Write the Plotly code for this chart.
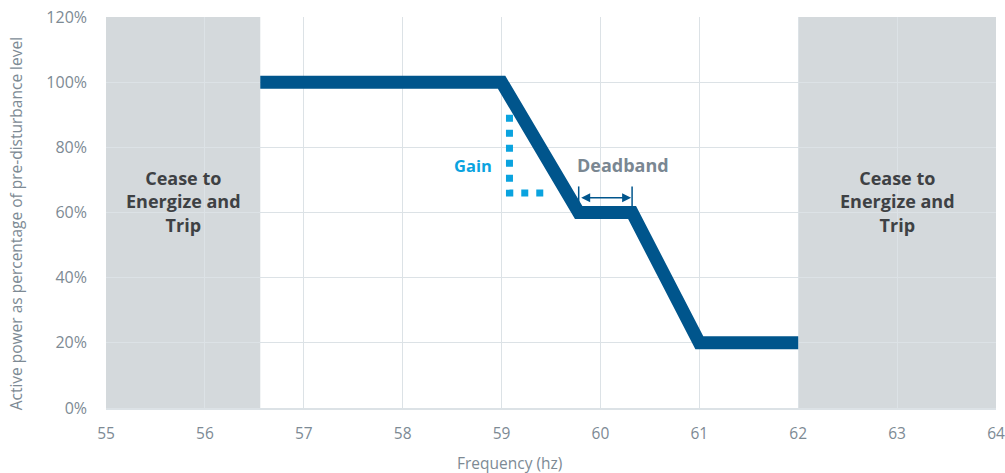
import plotly.graph_objects as go

# Frequency-watt response curve
freq = [56.56, 59.0, 59.78, 60.32, 61.0, 62.0]
power = [100, 100, 60, 60, 20, 20]

# Gain indicator (dotted right angle under the droop slope)
gain_x = [59.08, 59.08, 59.47]
gain_y = [90, 66, 66]

# Deadband span
deadband_lo, deadband_hi = 59.78, 60.32
deadband_y = 64.5

# Trip regions
trip_regions = [(55.0, 56.56), (62.0, 64.0)]
trip_label = "Cease to<br>Energize and<br>Trip"

x_ticks = list(range(55, 65))
y_ticks = [0, 20, 40, 60, 80, 100, 120]
y_tick_text = [f"{v}%" for v in y_ticks]

FONT = "'Open Sans', Lato, sans-serif"
GREY_TXT = "#7d8a94"
DARK_BLUE = "#00558c"
LIGHT_BLUE = "#0aa3df"

fig = go.Figure()

for x0, x1 in trip_regions:
    fig.add_shape(type="rect", x0=x0, x1=x1, y0=0, y1=120, xref="x", yref="y",
                  fillcolor="#d4d9dc", line_width=0, layer="below")
    fig.add_annotation(x=(x0 + x1) / 2, y=63.5, text=f"<b>{trip_label}</b>",
                       showarrow=False, font=dict(family=FONT, size=18, color="#3e4144"),
                       align="center")

fig.add_trace(go.Scatter(x=freq, y=power, mode="lines",
                         line=dict(color=DARK_BLUE, width=13), hoverinfo="skip"))

fig.add_trace(go.Scatter(x=gain_x, y=gain_y, mode="lines",
                         line=dict(color=LIGHT_BLUE, width=7, dash="7px,8px"),
                         hoverinfo="skip"))

# Deadband end ticks
fig.add_trace(go.Scatter(x=[deadband_lo, deadband_lo, None, deadband_hi, deadband_hi],
                         y=[68, 61, None, 68, 61], mode="lines",
                         line=dict(color=DARK_BLUE, width=1.5), hoverinfo="skip"))

# Double-headed deadband arrow
fig.add_annotation(x=deadband_hi - 0.01, y=deadband_y, ax=deadband_lo + 0.01, ay=deadband_y,
                   xref="x", yref="y", axref="x", ayref="y", text="",
                   showarrow=True, arrowhead=2, startarrowhead=2, arrowside="end+start",
                   arrowsize=1.2, startarrowsize=1.2, arrowwidth=1.5, arrowcolor=DARK_BLUE)

fig.add_annotation(x=58.71, y=74.5, text="<b>Gain</b>", showarrow=False,
                   font=dict(family=FONT, size=16.5, color=LIGHT_BLUE))
fig.add_annotation(x=60.23, y=74.5, text="<b>Deadband</b>", showarrow=False,
                   font=dict(family=FONT, size=18, color="#7a8792"))

# Axis titles
fig.add_annotation(x=0.453, y=-0.1407, xref="paper", yref="paper", xanchor="center",
                   yanchor="middle", text="Frequency (hz)", showarrow=False,
                   font=dict(family=FONT, size=15.5, color=GREY_TXT))
fig.add_annotation(x=-0.101, y=0.47, xref="paper", yref="paper", xanchor="center",
                   yanchor="middle", textangle=-90,
                   text="Active power as percentage of pre-disturbance level", showarrow=False,
                   font=dict(family=FONT, size=15.5, color=GREY_TXT))

fig.update_xaxes(range=[55, 64], tickvals=x_ticks, showgrid=True, gridcolor="#dce2e6",
                 gridwidth=1, zeroline=False, showline=True, linecolor="#dce2e6", linewidth=2,
                 ticks="", ticklabelstandoff=10, automargin=False,
                 tickfont=dict(family=FONT, size=15.5, color=GREY_TXT), fixedrange=True)
fig.update_yaxes(range=[0, 120], tickvals=y_ticks, ticktext=y_tick_text, showgrid=True,
                 gridcolor="#dce2e6", gridwidth=1, zeroline=False, showline=False,
                 ticks="", ticklabelstandoff=18, automargin=False,
                 tickfont=dict(family=FONT, size=16, color=GREY_TXT), fixedrange=True)

fig.update_layout(width=1005, height=473, margin=dict(l=106, r=9, t=17, b=65),
                  plot_bgcolor="white", paper_bgcolor="white", showlegend=False)

fig.write_html("out.html")
